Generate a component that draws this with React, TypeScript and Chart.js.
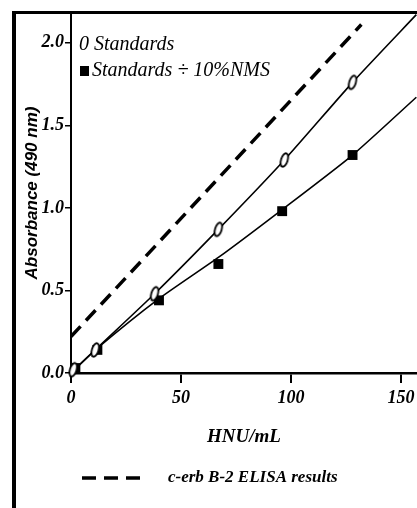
import React, { useEffect, useRef } from 'react';
import { Chart, registerables } from 'chart.js';

Chart.register(...registerables);

// ---- data ----
const standardsX = [1, 11, 38, 67, 97, 128];
const standardsY = [0.02, 0.14, 0.48, 0.87, 1.29, 1.76];
const nmsX = [2, 12, 40, 67, 96, 128];
const nmsY = [0.03, 0.14, 0.44, 0.66, 0.98, 1.32];
const standardsFitX = [0, 11, 38, 67, 97, 128, 157];
const standardsFitY = [0, 0.14, 0.48, 0.87, 1.29, 1.76, 2.17];
const nmsFitX = [0, 12, 40, 67, 96, 128, 157];
const nmsFitY = [0, 0.15, 0.45, 0.7, 0.99, 1.32, 1.67];
const elisaX = [0, 132];
const elisaY = [0.22, 2.11];
const xTicks = [0, 50, 100, 150];
const xTickLabels = ['0', '50', '100', '150'];
const yTicks = [0, 0.5, 1, 1.5, 2];
const yTickLabels = ['0.0', '0.5', '1.0', '1.5', '2.0'];
const seriesLabels = ['Standards', 'Standards \u00f7 10%NMS', 'c-erb B-2 ELISA results'];
const xTitle = 'HNU/mL';
const yTitle = 'Absorbance (490 nm)';

const pts = (xs: number[], ys: number[]) => xs.map((x, i) => ({ x, y: ys[i] }));

function makeZeroMarker(): HTMLCanvasElement {
  const c = document.createElement('canvas');
  c.width = 14;
  c.height = 20;
  const ctx = c.getContext('2d')!;
  ctx.translate(7, 10);
  ctx.rotate(0.3);
  ctx.beginPath();
  ctx.ellipse(0, 0, 3.3, 7, 0, 0, Math.PI * 2);
  ctx.fillStyle = '#fff';
  ctx.fill();
  ctx.lineWidth = 1.8;
  ctx.strokeStyle = '#000';
  ctx.stroke();
  return c;
}

const legendPlugin = {
  id: 'customLegends',
  afterDraw(chart: any) {
    const ctx = chart.ctx as CanvasRenderingContext2D;
    ctx.save();
    ctx.fillStyle = '#000';
    ctx.textBaseline = 'middle';
    ctx.textAlign = 'left';
    // inner legend
    ctx.font = 'italic 20px "Liberation Serif"';
    ctx.fillText('0 ' + seriesLabels[0], 79, 45);
    ctx.fillRect(80, 66, 9, 10);
    ctx.fillText(seriesLabels[1], 92, 71);
    // bottom legend
    const ds = chart.data.datasets[4];
    ctx.beginPath();
    ctx.setLineDash(ds.borderDash);
    ctx.lineWidth = ds.borderWidth;
    ctx.strokeStyle = ds.borderColor;
    ctx.moveTo(82, 478);
    ctx.lineTo(146, 478);
    ctx.stroke();
    ctx.setLineDash([]);
    ctx.font = 'italic bold 17px "Liberation Serif"';
    ctx.fillText(seriesLabels[2], 168, 478);
    ctx.restore();
  },
};

export default function App() {
  const ref = useRef<HTMLCanvasElement | null>(null);
  useEffect(() => {
    if (!ref.current) return;
    const zero = makeZeroMarker();
    const tickFont = { family: '"Liberation Serif"', size: 18, style: 'italic' as const, weight: 'bold' as const };
    const chart = new Chart(ref.current, {
      type: 'scatter',
      data: {
        datasets: [
          {
            label: seriesLabels[0],
            data: pts(standardsX, standardsY),
            pointStyle: zero as any,
            pointRadius: 7,
            showLine: false,
            clip: false as any,
          },
          {
            label: seriesLabels[1],
            data: pts(nmsX, nmsY),
            pointStyle: 'rect',
            pointRadius: 7,
            backgroundColor: '#000',
            borderColor: '#000',
            borderWidth: 0,
            showLine: false,
            clip: false as any,
          },
          {
            label: seriesLabels[0] + ' fit',
            data: pts(standardsFitX, standardsFitY),
            showLine: true,
            borderColor: '#000',
            borderWidth: 1.6,
            pointRadius: 0,
            tension: 0.2,
          },
          {
            label: seriesLabels[1] + ' fit',
            data: pts(nmsFitX, nmsFitY),
            showLine: true,
            borderColor: '#000',
            borderWidth: 1.6,
            pointRadius: 0,
            tension: 0.2,
          },
          {
            label: seriesLabels[2],
            data: pts(elisaX, elisaY),
            showLine: true,
            borderColor: '#000',
            borderWidth: 3.5,
            borderDash: [14, 8],
            pointRadius: 0,
          },
        ],
      },
      options: {
        animation: false,
        responsive: false,
        layout: { autoPadding: false, padding: { top: 13, left: 0, right: 0, bottom: 0 } },
        plugins: { legend: { display: false }, tooltip: { enabled: false } },
        scales: {
          x: {
            type: 'linear',
            min: 0,
            max: 157.3,
            afterBuildTicks: (s: any) => {
              s.ticks = xTicks.map((v) => ({ value: v }));
            },
            afterFit: (s: any) => {
              s.height = 135;
              s.paddingRight = 0;
              s.paddingLeft = 0;
            },
            border: { color: '#000', width: 2.5 },
            grid: { drawOnChartArea: false, drawTicks: true, tickLength: 10, color: '#000', lineWidth: 2 },
            ticks: {
              color: '#000',
              font: tickFont,
              padding: 5,
              maxRotation: 0,
              callback: (v: any) => {
                const i = xTicks.indexOf(Number(v));
                return i >= 0 ? xTickLabels[i] : '';
              },
            },
            title: {
              display: true,
              text: xTitle,
              color: '#000',
              font: { family: '"Liberation Serif"', size: 19, style: 'italic', weight: 'bold' },
              padding: { top: 0, bottom: 60 },
            },
          },
          y: {
            type: 'linear',
            min: 0,
            max: 2.18,
            afterBuildTicks: (s: any) => {
              s.ticks = yTicks.map((v) => ({ value: v }));
            },
            afterFit: (s: any) => {
              s.width = 71;
              s.paddingTop = 0;
              s.paddingBottom = 0;
            },
            border: { color: '#000', width: 2 },
            grid: { drawOnChartArea: false, drawTicks: true, tickLength: 6, color: '#000', lineWidth: 1.5 },
            ticks: {
              color: '#000',
              font: tickFont,
              padding: 1,
              callback: (v: any) => {
                const i = yTicks.indexOf(Number(v));
                return i >= 0 ? yTickLabels[i] : '';
              },
            },
            title: {
              display: true,
              text: yTitle,
              color: '#000',
              font: { family: '"Liberation Sans"', size: 17, style: 'italic', weight: 'bold' },
              padding: { top: 22, bottom: 0 },
            },
          },
        },
      },
      plugins: [legendPlugin],
    });
    return () => chart.destroy();
  }, []);

  return (
    <div style={{ position: 'fixed', left: 0, top: 0, width: 417, height: 508, background: '#fff', overflow: 'hidden' }}>
      <div
        style={{
          position: 'absolute',
          left: 12,
          top: 11,
          width: 420,
          height: 520,
          borderTop: '3px solid #000',
          borderLeft: '4px solid #000',
        }}
      />
      <canvas ref={ref} width={417} height={508} style={{ position: 'absolute', left: 0, top: 0 }} />
    </div>
  );
}
